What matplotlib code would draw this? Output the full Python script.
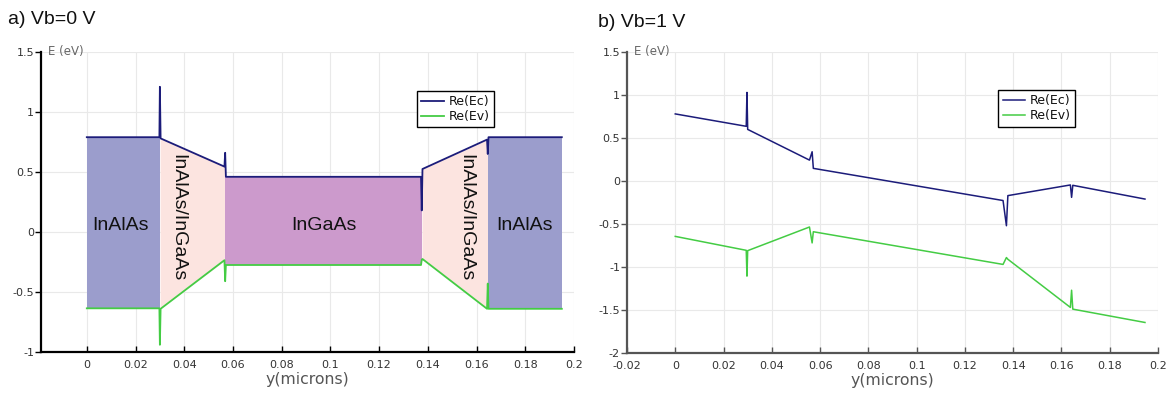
import numpy as np
import matplotlib
matplotlib.use("Agg")
import matplotlib.pyplot as plt
from matplotlib.ticker import FuncFormatter

# ---------------- data: panel a) Vb = 0 V ----------------
a_x = [0.0, 0.0298, 0.0300, 0.0303, 0.0565, 0.0568, 0.0571, 0.1372, 0.1375, 0.1378, 0.1643, 0.1646, 0.1649, 0.195]
a_ec = [0.79, 0.79, 1.21, 0.78, 0.545, 0.66, 0.46, 0.46, 0.18, 0.525, 0.77, 0.65, 0.79, 0.79]
a_ev = [-0.636, -0.636, -0.94, -0.64, -0.235, -0.41, -0.275, -0.275, -0.23, -0.225, -0.64, -0.43, -0.64, -0.64]

layer_names = ["InAlAs", "InAlAs/InGaAs", "InGaAs", "InAlAs/InGaAs", "InAlAs"]
layer_x0 = [0.0, 0.0301, 0.0568, 0.1376, 0.1646]
layer_x1 = [0.0301, 0.0568, 0.1376, 0.1646, 0.195]
layer_ec_left = [0.79, 0.78, 0.46, 0.525, 0.79]
layer_ec_right = [0.79, 0.545, 0.46, 0.77, 0.79]
layer_ev_left = [-0.636, -0.64, -0.275, -0.225, -0.64]
layer_ev_right = [-0.636, -0.235, -0.275, -0.64, -0.64]
layer_colors = ["#9b9dcc", "#fce4e0", "#cc9acc", "#fce4e0", "#9b9dcc"]
layer_label_x = [0.0137, 0.0373, 0.0975, 0.1555, 0.1795]
layer_label_y = [0.05, 0.12, 0.05, 0.12, 0.05]
layer_label_rot = [0, -90, 0, -90, 0]

# ---------------- data: panel b) Vb = 1 V ----------------
b_x = [0.0, 0.0294, 0.0297, 0.0300, 0.0556, 0.0567, 0.0572, 0.1358, 0.1372, 0.1378, 0.1637, 0.1642, 0.1647, 0.1946]
b_ec = [0.78, 0.636, 1.03, 0.60, 0.243, 0.34, 0.147, -0.227, -0.52, -0.17, -0.046, -0.19, -0.05, -0.21]
b_ev = [-0.644, -0.806, -1.106, -0.81, -0.535, -0.72, -0.59, -0.97, -0.89, -0.91, -1.47, -1.27, -1.49, -1.645]

a_xticks = [0, 0.02, 0.04, 0.06, 0.08, 0.1, 0.12, 0.14, 0.16, 0.18, 0.2]
a_yticks = [-1, -0.5, 0, 0.5, 1, 1.5]
b_xticks = [-0.02, 0, 0.02, 0.04, 0.06, 0.08, 0.1, 0.12, 0.14, 0.16, 0.18, 0.2]
b_yticks = [-2, -1.5, -1, -0.5, 0, 0.5, 1, 1.5]

EC_COLOR = "#1c1c7a"
EV_COLOR = "#44cc44"

fig = plt.figure(figsize=(11.73, 3.94), dpi=100)
axa = fig.add_axes([41 / 1173, 42 / 394, 533 / 1173, 300 / 394])
axb = fig.add_axes([627 / 1173, 41 / 394, 531 / 1173, 301 / 394])

fmt = FuncFormatter(lambda v, p: ("%g" % round(v, 3)))


def style_axis(ax, xlim, ylim, xticks, yticks, spine_color):
    ax.set_xlim(*xlim)
    ax.set_ylim(*ylim)
    ax.set_xticks(xticks)
    ax.set_yticks(yticks)
    ax.xaxis.set_major_formatter(fmt)
    ax.yaxis.set_major_formatter(fmt)
    for s in ["top", "right"]:
        ax.spines[s].set_visible(False)
    for s in ["left", "bottom"]:
        ax.spines[s].set_color(spine_color)
        ax.spines[s].set_linewidth(1.6)
    ax.grid(True, color="#e9e9e9", linewidth=0.8)
    ax.set_axisbelow(True)
    ax.tick_params(axis="x", direction="in", length=4, width=1, colors=spine_color,
                   labelcolor="#333333", labelsize=8, pad=6)
    ax.tick_params(axis="y", direction="out", length=4, width=1, colors=spine_color,
                   labelcolor="#333333", labelsize=8, pad=1)
    ax.set_xlabel("y(microns)", fontsize=11.3, color="#555555", labelpad=1)
    ax.text(0.013, 1.0, "E (eV)", transform=ax.transAxes, fontsize=8.5, color="#666666",
            ha="left", va="center")


style_axis(axa, (-0.0188, 0.2), (-1, 1.5), a_xticks, a_yticks, "#000000")
style_axis(axb, (-0.02, 0.2), (-2, 1.5), b_xticks, b_yticks, "#555555")

# panel a fills
for i in range(len(layer_names)):
    axa.fill_between([layer_x0[i], layer_x1[i]],
                     [layer_ev_left[i], layer_ev_right[i]],
                     [layer_ec_left[i], layer_ec_right[i]],
                     color=layer_colors[i], linewidth=0, zorder=2)
    axa.text(layer_label_x[i], layer_label_y[i], layer_names[i], rotation=layer_label_rot[i],
             ha="center", va="center", fontsize=14, family="Liberation Sans", color="#111111",
             zorder=5)

axa.plot(a_x, a_ec, color=EC_COLOR, lw=1.3, label="Re(Ec)", zorder=4)
axa.plot(a_x, a_ev, color=EV_COLOR, lw=1.3, label="Re(Ev)", zorder=4)

axb.plot(b_x, b_ec, color=EC_COLOR, lw=1.1, label="Re(Ec)", zorder=4)
axb.plot(b_x, b_ev, color=EV_COLOR, lw=1.1, label="Re(Ev)", zorder=4)

for ax, anchor in [(axa, (0.705, 0.871)), (axb, (0.699, 0.874))]:
    leg = ax.legend(loc="upper left", bbox_to_anchor=anchor, borderaxespad=0,
                    fontsize=9, handlelength=1.8, handletextpad=0.4, labelspacing=0.15,
                    borderpad=0.35, fancybox=False, framealpha=1, edgecolor="#000000")
    leg.get_frame().set_linewidth(1.0)
    for t in leg.get_texts():
        t.set_color("#111111")

fig.text(8 / 1173, 1 - 24 / 394, "a) Vb=0 V", fontsize=14, family="Liberation Sans",
         ha="left", va="baseline", color="#111111")
fig.text(598 / 1173, 1 - 27 / 394, "b) Vb=1 V", fontsize=14, family="Liberation Sans",
         ha="left", va="baseline", color="#111111")

fig.savefig("out.png", dpi=100)
